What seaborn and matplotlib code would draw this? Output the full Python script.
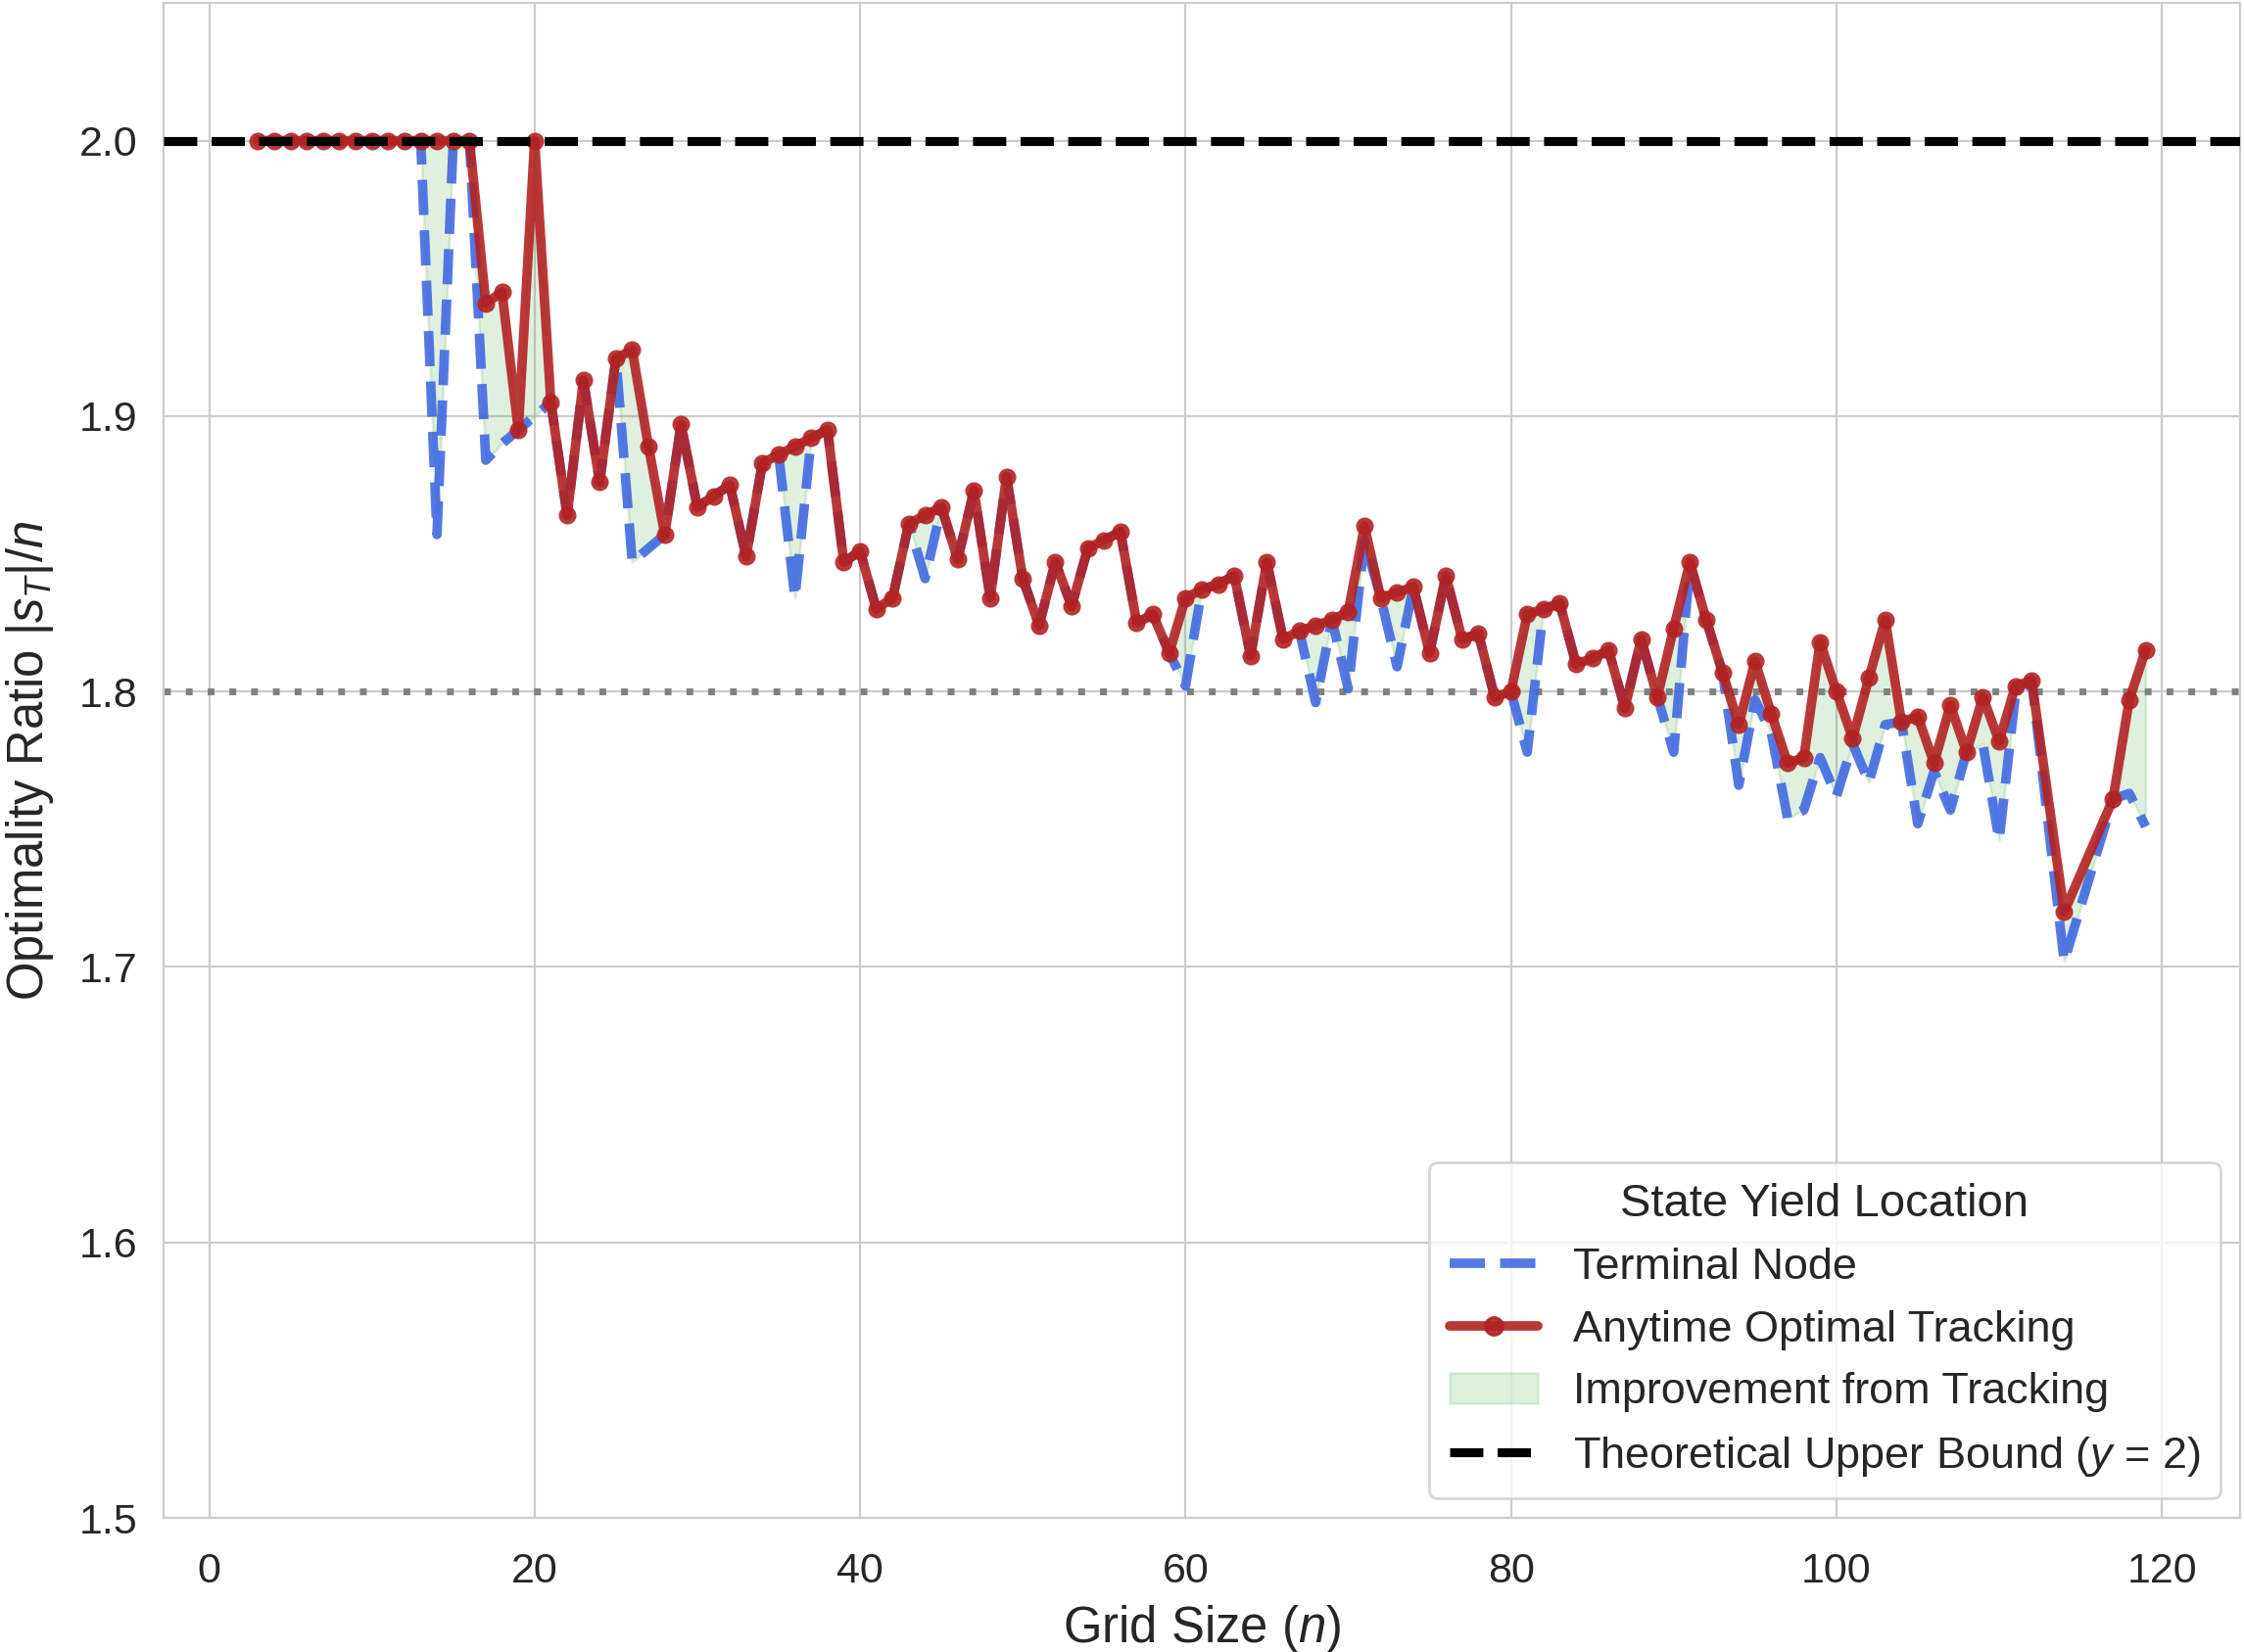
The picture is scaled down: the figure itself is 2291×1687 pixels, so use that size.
import numpy as np
import pandas as pd
import matplotlib
matplotlib.use("Agg")
import matplotlib.pyplot as plt
import seaborn as sns
from matplotlib.lines import Line2D
from matplotlib.patches import Patch

sns.set_style("whitegrid")
plt.rcParams['font.family'] = ['Liberation Sans', 'DejaVu Sans']
plt.rcParams['mathtext.fontset'] = 'custom'
plt.rcParams['mathtext.rm'] = 'Liberation Sans'
plt.rcParams['mathtext.it'] = 'Liberation Sans:italic'

# grid sizes (113, 115, 116 are missing in the run)
grid_n = list(range(3, 113)) + [114, 117, 118, 119]

# anytime optimal tracking ratio
anytime = [2.0] * 14 + [
    1.941, 1.945, 1.895, 2.000, 1.905, 1.864, 1.913, 1.876, 1.921, 1.924,   # 17-26
    1.889, 1.857, 1.897, 1.867, 1.871, 1.875, 1.849, 1.883, 1.886, 1.889,   # 27-36
    1.892, 1.895, 1.847, 1.851, 1.830, 1.834, 1.861, 1.864, 1.867, 1.848,   # 37-46
    1.873, 1.834, 1.878, 1.841, 1.824, 1.847, 1.831, 1.852, 1.855, 1.858,   # 47-56
    1.825, 1.828, 1.814, 1.834, 1.837, 1.839, 1.842, 1.813, 1.847, 1.819,   # 57-66
    1.822, 1.824, 1.826, 1.829, 1.860, 1.834, 1.836, 1.838, 1.814, 1.842,   # 67-76
    1.819, 1.821, 1.798, 1.800, 1.828, 1.830, 1.832, 1.810, 1.812, 1.815,   # 77-86
    1.794, 1.819, 1.798, 1.823, 1.847, 1.826, 1.807, 1.788, 1.811, 1.792,   # 87-96
    1.774, 1.776, 1.818, 1.800, 1.783, 1.805, 1.826, 1.789, 1.791, 1.774,   # 97-106
    1.795, 1.778, 1.798, 1.782, 1.802, 1.804,                               # 107-112
    1.720, 1.761, 1.797, 1.815]                                             # 114,117,118,119

# ratio when the state is yielded at the terminal node
terminal = [2.0] * 11 + [
    1.857, 2.000, 2.000,                                                    # 14-16
    1.884, 1.890, 1.895, 1.900, 1.905, 1.864, 1.913, 1.876, 1.921, 1.847,   # 17-26
    1.852, 1.857, 1.897, 1.867, 1.871, 1.875, 1.849, 1.883, 1.886, 1.834,   # 27-36
    1.892, 1.895, 1.847, 1.851, 1.830, 1.834, 1.861, 1.841, 1.867, 1.848,   # 37-46
    1.873, 1.834, 1.878, 1.841, 1.824, 1.847, 1.831, 1.852, 1.855, 1.858,   # 47-56
    1.825, 1.828, 1.814, 1.802, 1.837, 1.839, 1.842, 1.813, 1.847, 1.819,   # 57-66
    1.822, 1.796, 1.826, 1.801, 1.855, 1.834, 1.809, 1.838, 1.814, 1.842,   # 67-76
    1.819, 1.821, 1.798, 1.800, 1.778, 1.830, 1.832, 1.810, 1.812, 1.815,   # 77-86
    1.794, 1.819, 1.798, 1.778, 1.846, 1.826, 1.807, 1.766, 1.797, 1.785,   # 87-96
    1.754, 1.757, 1.776, 1.762, 1.781, 1.767, 1.788, 1.789, 1.752, 1.771,   # 97-106
    1.757, 1.778, 1.781, 1.746, 1.799, 1.804,                               # 107-112
    1.702, 1.761, 1.763, 1.751]                                             # 114,117,118,119

df = pd.DataFrame({"n": grid_n, "terminal": terminal, "anytime": anytime})

fig, ax = plt.subplots(figsize=(2291 / 200, 1687 / 200), dpi=200)
fig.subplots_adjust(left=0.0729, right=0.9982, bottom=0.0812, top=0.9982)

blue = "#4169E1"
red = "#B22222"
green = "#2ca02c"

ax.fill_between(df.n, df.terminal, df.anytime, color=green, alpha=0.15, zorder=1)
sns.lineplot(data=df, x="n", y="terminal", ax=ax, color=blue, lw=3.5,
             linestyle="--", alpha=0.9, zorder=2)
sns.lineplot(data=df, x="n", y="anytime", ax=ax, color=red, lw=3.5,
             marker="o", markersize=6.5, markeredgewidth=0, alpha=0.9, zorder=3)
ax.axhline(2.0, color="black", lw=3.3, linestyle="--", zorder=4)
ax.axhline(1.8, color="gray", lw=2.5, linestyle=(0, (1, 2.2)), zorder=1.5)

ax.set_ylim(1.5, 2.05)
ax.set_xlim(-2.8, 124.8)
ax.set_xticks(range(0, 121, 20))
ax.set_yticks(np.arange(1.5, 2.01, 0.1))
ax.tick_params(axis="both", labelsize=15.5)
ax.tick_params(axis="x", pad=9)
ax.tick_params(axis="y", pad=6)
ax.set_xlabel("Grid Size ($n$)", fontsize=18.3, labelpad=4.5)
ax.set_ylabel("Optimality Ratio $|s_T|/n$", fontsize=18.3, labelpad=8.5)

handles = [
    Line2D([], [], color=blue, lw=3.5, linestyle="--", alpha=0.9),
    Line2D([], [], color=red, lw=3.5, marker="o", markersize=6.5, alpha=0.9),
    Patch(facecolor=green, edgecolor=green, alpha=0.15),
    Line2D([], [], color="black", lw=3.3, linestyle="--"),
]
labels = ["Terminal Node", "Anytime Optimal Tracking",
          "Improvement from Tracking", "Theoretical Upper Bound ($y$ = 2)"]
ax.legend(handles, labels, title="State Yield Location", loc="lower right",
          fontsize=16.2, title_fontsize=17, frameon=True, borderaxespad=0.45,
          labelspacing=0.5, borderpad=0.45)

fig.savefig("out.png", dpi=200)
